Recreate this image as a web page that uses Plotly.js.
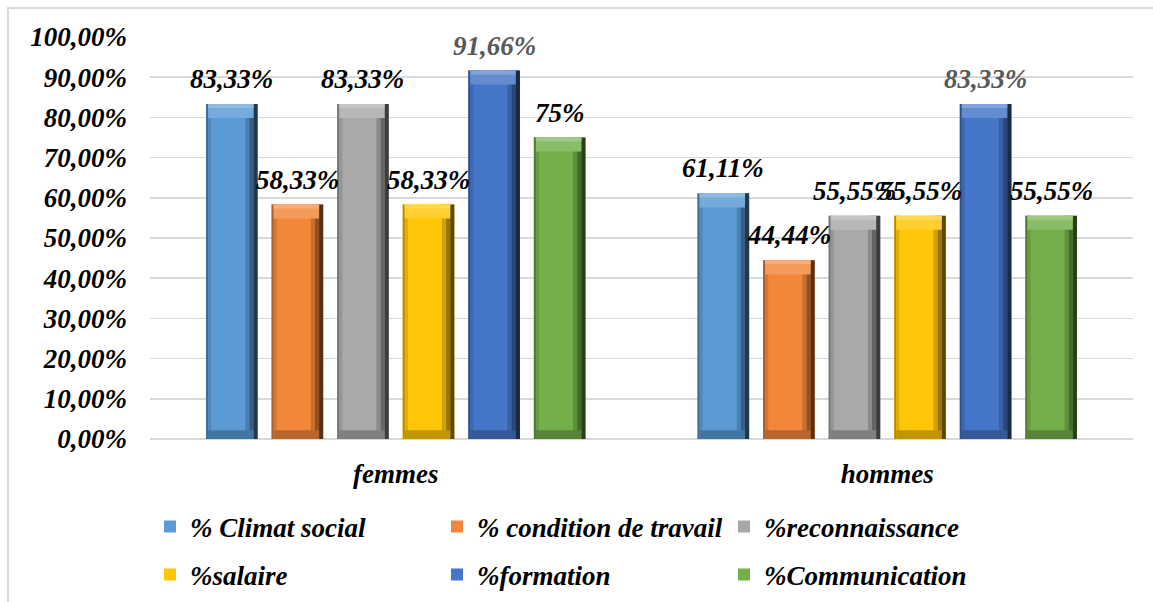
<!DOCTYPE html>
<html>
<head>
<meta charset="utf-8">
<script src="https://cdn.plot.ly/plotly-3.0.1.min.js"></script>
<style>
  html, body { margin: 0; padding: 0; background: #fff; overflow: hidden; }
  #chart { width: 1153px; height: 602px; }
  #frame { position: absolute; left: 7px; top: 7px; width: 1200px; height: 700px;
           border: 2px solid #D9D9D9; pointer-events: none; }
</style>
</head>
<body>
<div id="chart"></div>
<div id="frame"></div>
<script>
// Categories and series (percent values)
const groups = ['femmes', 'hommes'];
const seriesNames = ['% Climat social', '% condition de travail', '%reconnaissance',
                     '%salaire', '%formation', '%Communication'];
const climatSocial     = [83.33, 61.11];
const conditionTravail = [58.33, 44.44];
const reconnaissance   = [83.33, 55.55];
const salaire          = [58.33, 55.55];
const formation        = [91.66, 83.33];
const communication    = [75, 55.55];
const seriesValues = [climatSocial, conditionTravail, reconnaissance, salaire, formation, communication];

const seriesColors = ['#5B9BD5', '#F2873A', '#A9A9A9', '#FFC507', '#4676C8', '#73B04A'];
const labelColors  = ['#000000', '#000000', '#000000', '#000000', '#595959', '#000000'];

const FONT = 'Liberation Serif';

// geometry of a bar inside its category slot (category units)
const SLOT = 0.1334;
const BAR_W = 0.105;

function hexToRgb(h) {
  const n = parseInt(h.slice(1), 16);
  return [(n >> 16) & 255, (n >> 8) & 255, n & 255];
}
// amt < 0 darkens towards black, amt > 0 lightens towards white
function shade(hex, amt) {
  const c = hexToRgb(hex).map(v => amt < 0 ? v * (1 + amt) : v + (255 - v) * amt);
  return 'rgb(' + c.map(v => Math.round(v)).join(',') + ')';
}
function fmt(v) { return String(v).replace('.', ',') + '%'; }
function serif(size, color) {
  return { family: FONT, size: size, color: color || '#000', weight: 'bold', style: 'italic' };
}

const traces = [];
const annotations = [];

seriesValues.forEach((vals, i) => {
  const center = (i - 2.5) * SLOT;
  const left = center - BAR_W / 2;
  const col = seriesColors[i];
  const legendId = i < 3 ? 'legend' : 'legend2';

  // main face
  traces.push({
    type: 'bar', x: groups, y: vals, name: seriesNames[i],
    offset: left, width: BAR_W, legend: legendId,
    marker: { color: col, line: { width: 0 } },
    hoverinfo: 'skip'
  });

  // bevel bands, built from the same values
  const band = (f0, f1, color, baseOf, heightOf) => traces.push({
    type: 'bar', x: groups,
    y: vals.map(heightOf), base: vals.map(baseOf),
    offset: left + f0 * BAR_W, width: (f1 - f0) * BAR_W,
    marker: { color: color, line: { width: 0 } },
    showlegend: false, hoverinfo: 'skip', legend: legendId
  });
  const full = v => v, zero = () => 0;
  // side shading
  band(0.00, 0.04, shade(col, -0.30), zero, full);
  band(0.04, 0.10, shade(col, -0.12), zero, full);
  band(0.76, 0.84, shade(col, -0.18), zero, full);
  band(0.84, 0.92, shade(col, -0.40), zero, full);
  band(0.92, 1.00, shade(col, -0.64), zero, full);
  // top highlight and bottom shadow
  band(0.04, 0.92, shade(col, 0.16), v => v - 3.5, () => 3.5);
  band(0.04, 0.92, shade(col, 0.32), v => v - 1, () => 1);
  band(0.04, 0.92, shade(col, -0.25), zero, () => 2.2);

  // value labels above each bar
  vals.forEach((v, g) => {
    annotations.push({
      x: g + center, y: v, xref: 'x', yref: 'y',
      text: fmt(v), showarrow: false, yanchor: 'bottom', yshift: 8,
      font: serif(27, labelColors[i])
    });
  });
});

const legendBase = {
  orientation: 'h', x: 0, xanchor: 'left', yanchor: 'middle', yref: 'container',
  entrywidth: 242, itemwidth: 30, traceorder: 'normal',
  font: serif(27), bgcolor: 'rgba(0,0,0,0)'
};

const layout = {
  width: 1153, height: 602,
  margin: { l: 150, r: 20, t: 37, b: 163 },
  barmode: 'overlay',
  separators: ', ',
  paper_bgcolor: '#fff', plot_bgcolor: '#fff',
  font: serif(26),
  xaxis: {
    type: 'category', range: [-0.5, 1.5],
    showgrid: false, showline: false, zeroline: false, ticks: '',
    ticklabelstandoff: 16, tickfont: serif(27)
  },
  yaxis: {
    range: [0, 100], tick0: 0, dtick: 10,
    tickformat: '.2f', ticksuffix: '%',
    showgrid: true, gridcolor: '#D9D9D9', gridwidth: 1.5,
    zeroline: true, zerolinecolor: '#D9D9D9', zerolinewidth: 1.5,
    showline: false, ticks: '', ticklabelstandoff: 22, tickfont: serif(27)
  },
  legend: Object.assign({}, legendBase, { y: 0.1246 }),
  legend2: Object.assign({}, legendBase, { y: 0.0449 }),
  annotations: annotations,
  showlegend: true
};

function draw() {
  Plotly.newPlot('chart', traces, layout, { displayModeBar: false, staticPlot: true });
}
// make sure the serif face is ready before text is measured
if (document.fonts && document.fonts.load) {
  document.fonts.load('italic bold 27px "Liberation Serif"').then(draw, draw);
} else {
  draw();
}
</script>
</body>
</html>
